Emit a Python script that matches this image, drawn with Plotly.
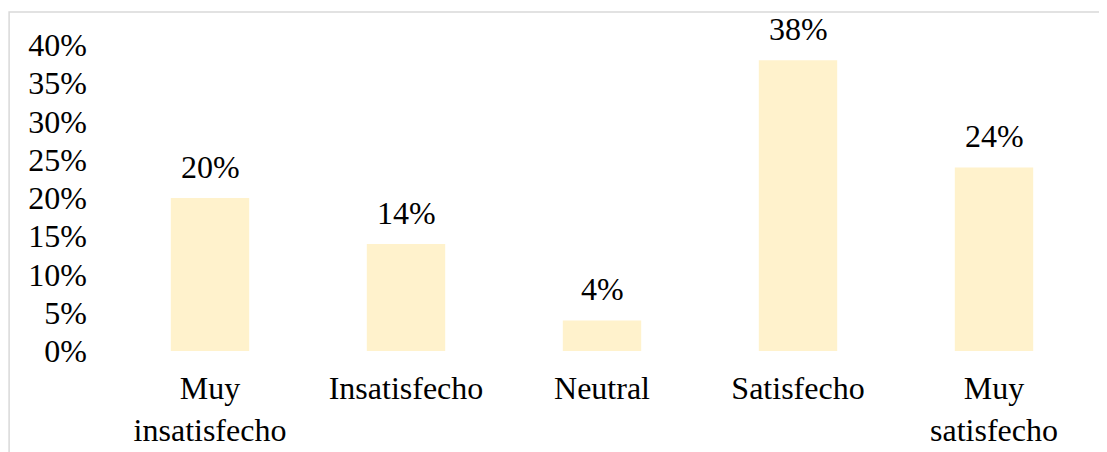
import plotly.graph_objects as go

# survey satisfaction shares (%)
categories = ["Muy<br>insatisfecho", "Insatisfecho", "Neutral", "Satisfecho", "Muy<br>satisfecho"]
shares = [20, 14, 4, 38, 24]
y_ticks = [0, 5, 10, 15, 20, 25, 30, 35, 40]
y_tick_labels = [f"{t}%" for t in y_ticks]

FONT = dict(family="Times New Roman", size=32, color="#000000")

fig = go.Figure(go.Bar(
    x=categories,
    y=shares,
    marker=dict(color="#FFF2CC", line=dict(width=0)),
    width=0.4,
    hoverinfo="skip",
))

# value labels above the bars
for cat, val in zip(categories, shares):
    fig.add_annotation(
        x=cat, y=val, text=f"{val}%",
        showarrow=False, yanchor="bottom", yshift=11,
        font=FONT,
    )

# light frame around the chart area (only top/left edges fall inside the window)
fig.add_shape(
    type="rect", xref="paper", yref="paper",
    x0=-0.105, x1=1.08, y0=-0.45, y1=1.108,
    line=dict(color="#D9D9D9", width=1.5), fillcolor="rgba(0,0,0,0)",
    layer="below",
)

# figure offset by the 8px body margin of the page
fig.update_layout(
    width=1091, height=444,
    margin=dict(l=104, r=7, t=37, b=101),
    plot_bgcolor="white",
    paper_bgcolor="white",
    font=FONT,
    showlegend=False,
    xaxis=dict(
        showgrid=False, showline=False, zeroline=False, ticks="",
        ticklabelstandoff=15, tickfont=FONT, automargin=False,
    ),
    yaxis=dict(
        range=[0, 40], tickvals=y_ticks, ticktext=y_tick_labels,
        showgrid=False, showline=False, zeroline=False, ticks="",
        ticklabelstandoff=24, tickfont=FONT, automargin=False,
    ),
)

fig.write_html("out.html")
